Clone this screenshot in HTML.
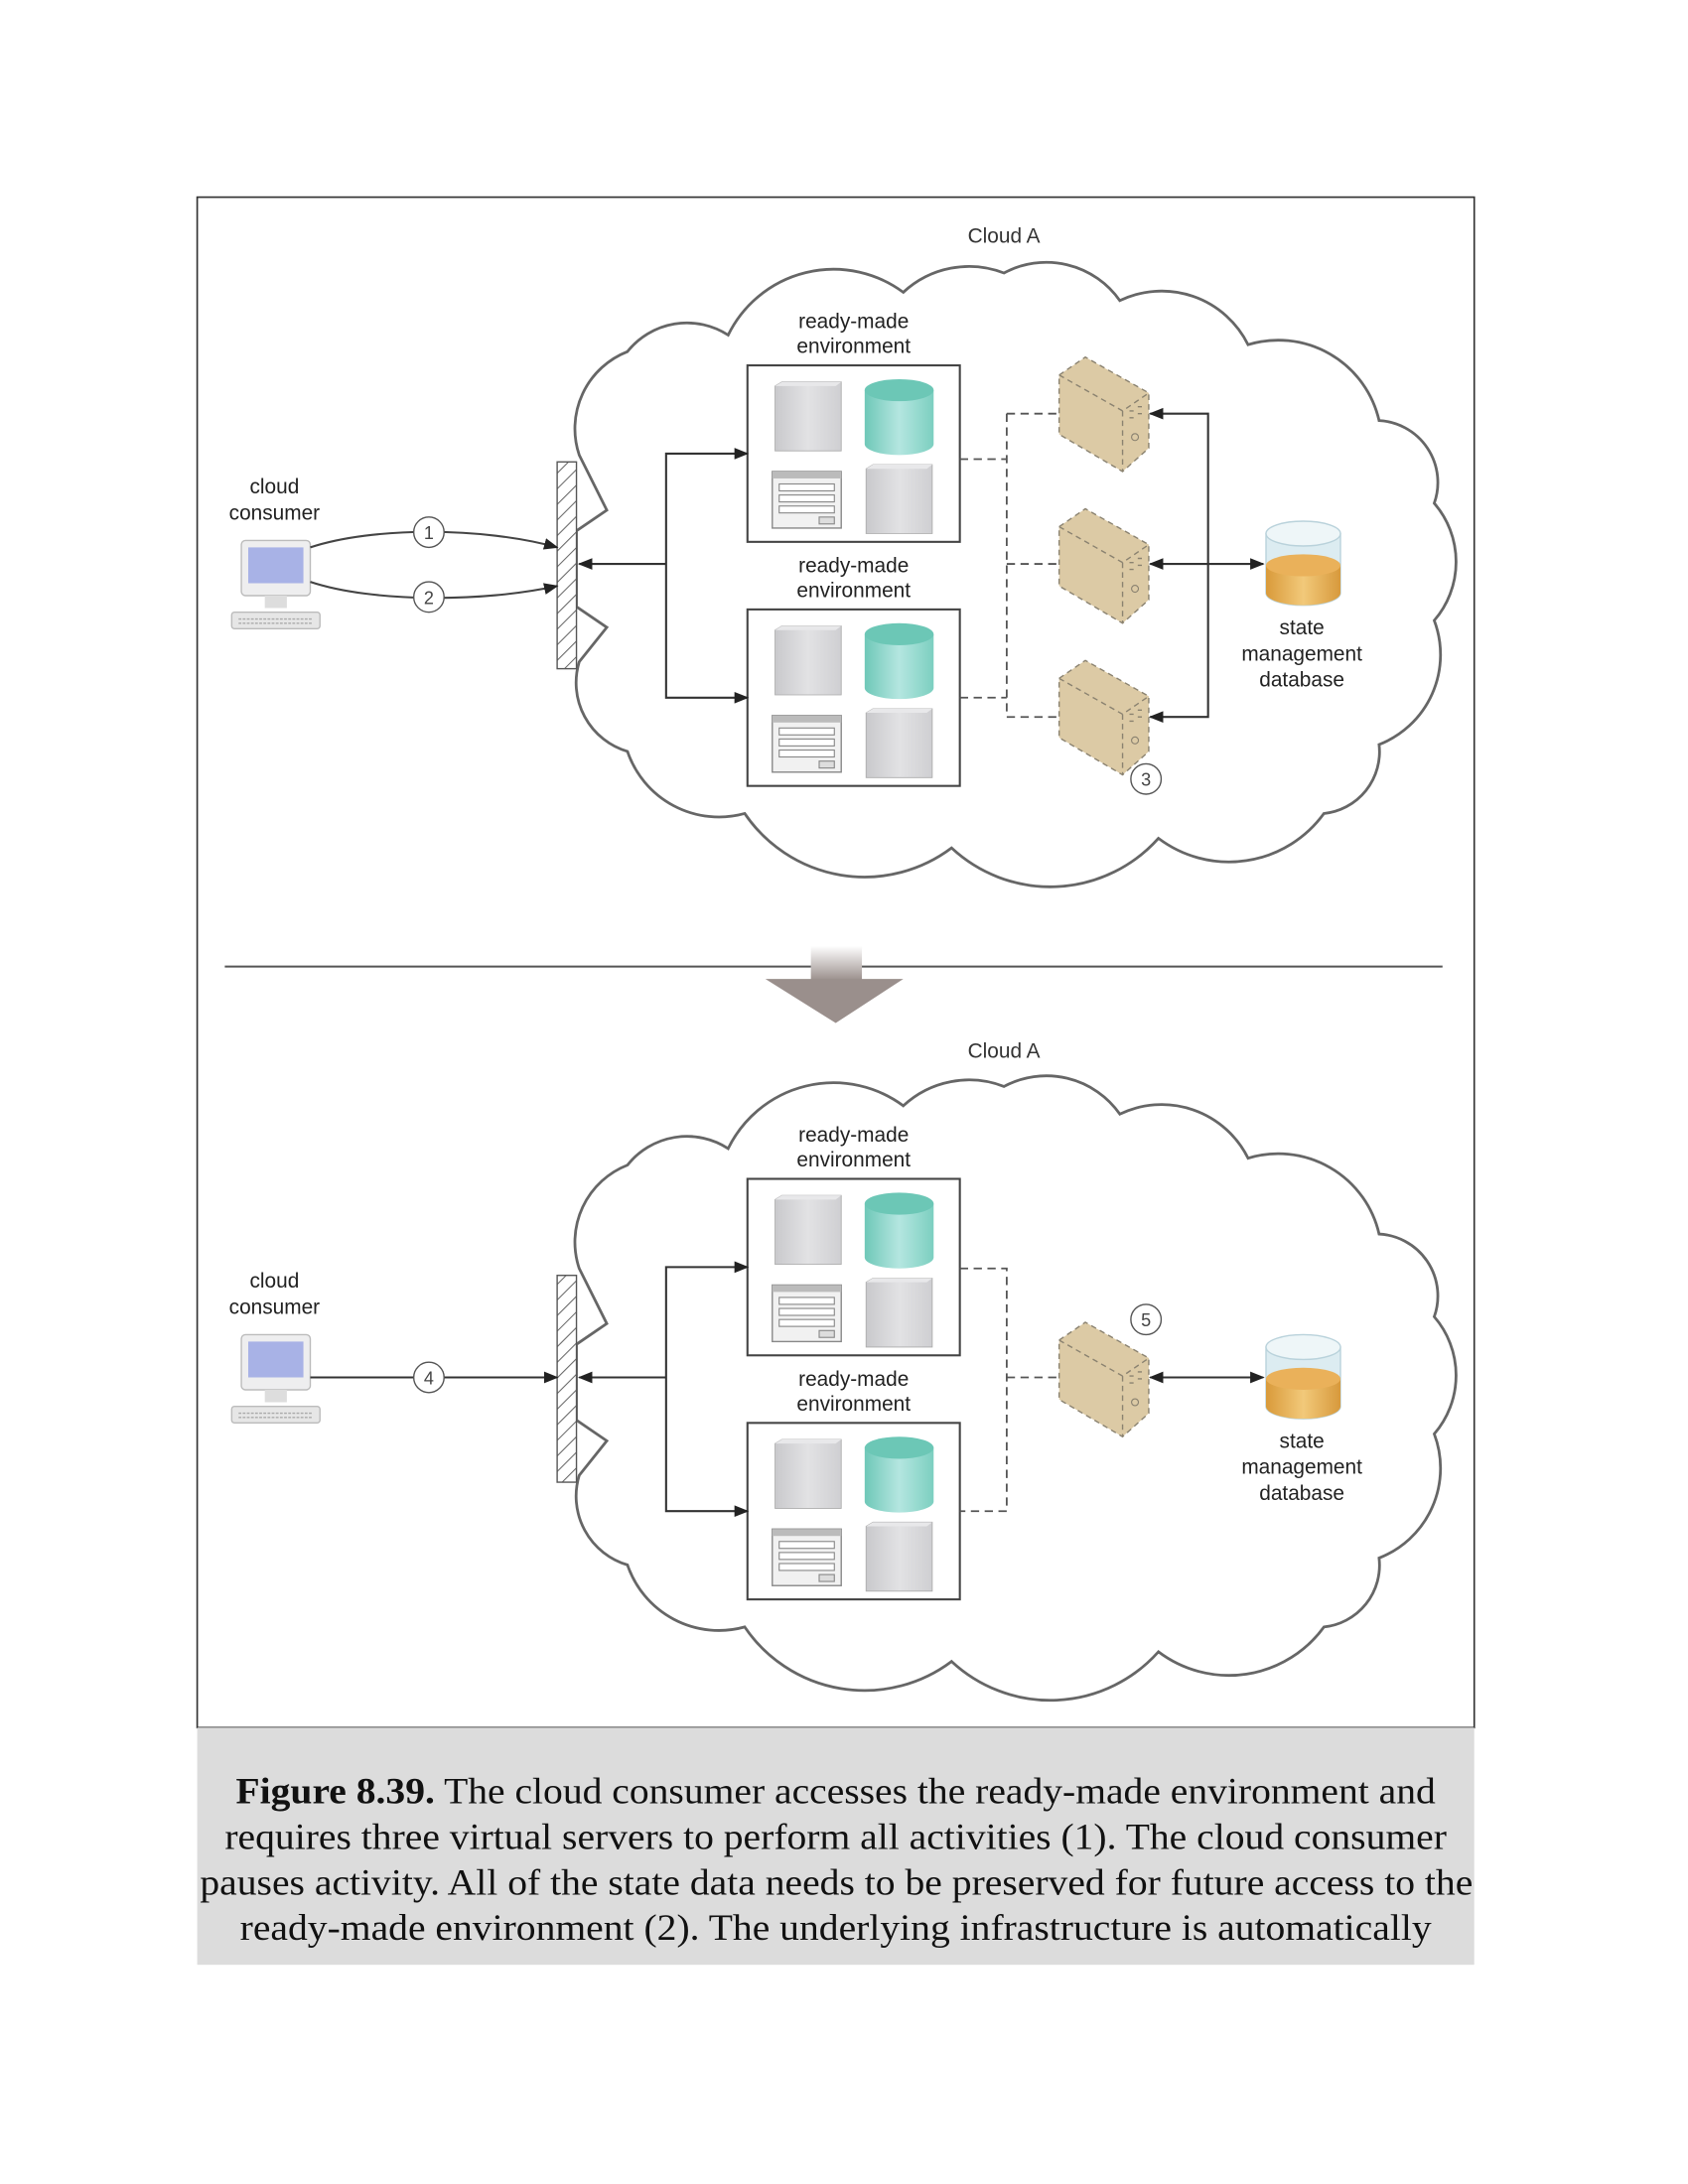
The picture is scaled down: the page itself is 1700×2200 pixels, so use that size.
<!DOCTYPE html>
<html><head><meta charset="utf-8"><style>html,body{margin:0;padding:0;background:#fff}svg{display:block}</style></head><body>
<svg width="1700" height="2200" viewBox="0 0 1224 1584" xmlns="http://www.w3.org/2000/svg" font-family="Liberation Sans, sans-serif">
<defs>
<linearGradient id="gs" x1="0" x2="1"><stop offset="0" stop-color="#c9c9cc"/><stop offset="0.5" stop-color="#e2e2e4"/><stop offset="1" stop-color="#cfcfd2"/></linearGradient>
<linearGradient id="gt" x1="0" x2="1"><stop offset="0" stop-color="#6fc8b8"/><stop offset="0.5" stop-color="#b4e6e0"/><stop offset="1" stop-color="#7ccfc0"/></linearGradient>
<linearGradient id="go" x1="0" x2="1"><stop offset="0" stop-color="#d99a3a"/><stop offset="0.5" stop-color="#f2c97a"/><stop offset="1" stop-color="#d7993c"/></linearGradient>
<linearGradient id="ga" x1="0" y1="0" x2="0" y2="1"><stop offset="0" stop-color="#fff"/><stop offset="1" stop-color="#9a8f8c"/></linearGradient>
<pattern id="hatch" width="8" height="8" patternUnits="userSpaceOnUse" patternTransform="rotate(45)"><rect width="8" height="8" fill="#fff"/><line x1="0" y1="0" x2="0" y2="8" stroke="#666" stroke-width="1.5"/></pattern>
<marker id="ar" viewBox="0 0 10 10" refX="9" refY="5" markerWidth="7" markerHeight="7" orient="auto-start-reverse"><path d="M0,1 L10,5 L0,9 z" fill="#222"/></marker>
<g id="srv"><path d="M0,3 L5,0 L48,0 L48,50 L0,50z" fill="url(#gs)" stroke="#aaa" stroke-width="0.6"/><path d="M0,3 L5,0 L48,0 L44,3z" fill="#e8e8ea"/></g>
<g id="cyl"><path d="M0,8 L0,47 A25,8 0 0 0 50,47 L50,8z" fill="url(#gt)"/><ellipse cx="25" cy="8" rx="25" ry="8" fill="#6cc7b6"/></g>
<g id="form"><rect x="0" y="0" width="50" height="41" fill="#f1f1f1" stroke="#888" stroke-width="1"/><rect x="0" y="0" width="50" height="5" fill="#bbb"/><rect x="5" y="9" width="40" height="5" fill="#fff" stroke="#888" stroke-width="0.8"/><rect x="5" y="17" width="40" height="5" fill="#fff" stroke="#888" stroke-width="0.8"/><rect x="5" y="25" width="40" height="5" fill="#fff" stroke="#888" stroke-width="0.8"/><rect x="34" y="33" width="11" height="5" fill="#ddd" stroke="#888" stroke-width="0.8"/></g>
<g id="env"><rect x="0" y="0" width="154" height="128" fill="#fff" stroke="#444" stroke-width="1.5"/><use href="#srv" x="20" y="12"/><use href="#cyl" x="85" y="10"/><use href="#form" x="18" y="77"/><use href="#srv" x="86" y="72"/></g>
<g id="vs"><path d="M0,17 L19,4 L65,30 L65,70 L46,87 L0,60z" fill="#dccaa5" stroke="#8a8270" stroke-width="1" stroke-dasharray="4,3"/><path d="M0,17 L46,43 L65,30 M46,43 L46,87" fill="none" stroke="#8a8270" stroke-width="1" stroke-dasharray="4,3"/><path d="M51,43 h3 M57,40 h3 M51,48 h3 M57,45 h3" stroke="#8a8270" stroke-width="1"/><circle cx="55" cy="62" r="2.5" fill="none" stroke="#8a8270" stroke-width="0.8"/></g>
<g id="pc"><rect x="7" y="0" width="50" height="40" rx="3" fill="#eeeeef" stroke="#bbb"/><rect x="12" y="5" width="40" height="26" fill="#a8b2e6"/><rect x="24" y="40" width="16" height="9" fill="#ddd"/><rect x="0" y="52" width="64" height="12" rx="2" fill="#e6e6e6" stroke="#bbb"/><path d="M5,57 h54 M5,60 h54" stroke="#aaa" stroke-dasharray="2,1"/></g>
<g id="db"><path d="M0,9 L0,52 A27,9 0 0 0 54,52 L54,9z" fill="#dcecf1" stroke="#b9d2db"/><ellipse cx="27" cy="9" rx="27" ry="9" fill="#eef6f8" stroke="#b9d2db"/><path d="M0,32 L0,52 A27,9 0 0 0 54,52 L54,32z" fill="url(#go)"/><ellipse cx="27" cy="32" rx="27" ry="8" fill="#eab15a"/></g>
<path id="cloud" d="M420,330 A60,60 0 0 1 455,255 A55,55 0 0 1 528,243 A85,85 0 0 1 655,212 A70,70 0 0 1 728,198 A65,65 0 0 1 812,218 A70,70 0 0 1 905,250 A75,75 0 0 1 1000,305 A45,45 0 0 1 1040,365 A65,65 0 0 1 1040,450 A70,70 0 0 1 1000,540 A45,45 0 0 1 960,590 A85,85 0 0 1 840,608 A105,105 0 0 1 690,615 A105,105 0 0 1 540,590 A70,70 0 0 1 455,545 A52,52 0 0 1 420,480 L440,455 L418,440 L418,385 L440,370 Z" fill="#fff" stroke="#666" stroke-width="2"/>
</defs>

<rect x="143" y="143" width="926" height="1110" fill="#fff" stroke="#333" stroke-width="1.2"/>
<rect x="143" y="1253" width="926" height="172" fill="#dcdcdc"/>

<use href="#cloud"/>
<text x="728" y="176" font-size="15" text-anchor="middle" fill="#333">Cloud A</text>
<g font-size="15" text-anchor="middle" fill="#222">
<text x="619" y="238">ready-made</text><text x="619" y="256">environment</text>
<text x="619" y="415">ready-made</text><text x="619" y="433">environment</text>
<text x="199" y="358">cloud</text><text x="199" y="377">consumer</text>
<text x="944" y="460">state</text><text x="944" y="479">management</text><text x="944" y="498">database</text>
</g>
<use href="#env" x="542" y="265"/>
<use href="#env" x="542" y="442"/>
<use href="#pc" x="168" y="392"/>
<rect x="404" y="335" width="14" height="150" fill="url(#hatch)" stroke="#555"/>
<path d="M225,397 C270,382 350,382 404,397" fill="none" stroke="#444" stroke-width="1.5" marker-end="url(#ar)"/>
<path d="M225,422 C270,437 350,437 404,425" fill="none" stroke="#444" stroke-width="1.5" marker-end="url(#ar)"/>
<circle cx="311" cy="386" r="11" fill="#fff" stroke="#555"/><text x="311" y="391" font-size="13" text-anchor="middle" fill="#444">1</text>
<circle cx="311" cy="433" r="11" fill="#fff" stroke="#555"/><text x="311" y="438" font-size="13" text-anchor="middle" fill="#444">2</text>
<g stroke="#333" stroke-width="1.5" fill="none">
<path d="M483,409 L420,409" marker-end="url(#ar)"/>
<path d="M542,329 L483,329 L483,506 L542,506" marker-end="url(#ar)" marker-start="url(#ar)"/>
<path d="M834,300 L876,300 L876,520 L834,520" marker-end="url(#ar)" marker-start="url(#ar)"/>
<path d="M834,409 L916,409" marker-end="url(#ar)" marker-start="url(#ar)"/>
</g>
<g stroke="#555" stroke-width="1.3" fill="none" stroke-dasharray="6,4">
<path d="M696,333 L730,333 M696,506 L730,506 M730,300 L730,520 M730,300 L792,300 M730,409 L792,409 M730,520 L792,520"/>
</g>
<use href="#vs" x="768" y="255"/>
<use href="#vs" x="768" y="365"/>
<use href="#vs" x="768" y="475"/>
<circle cx="831" cy="565" r="11" fill="#fff" stroke="#555"/><text x="831" y="570" font-size="13" text-anchor="middle" fill="#444">3</text>
<use href="#db" x="918" y="378"/>

<line x1="163" y1="701" x2="1046" y2="701" stroke="#555" stroke-width="1.5"/>
<rect x="588" y="686" width="37" height="25" fill="url(#ga)"/>
<path d="M555,710 L655,710 L606,742z" fill="#9a8f8c"/>

<use href="#cloud" y="590"/>
<text x="728" y="767" font-size="15" text-anchor="middle" fill="#333">Cloud A</text>
<g font-size="15" text-anchor="middle" fill="#222">
<text x="619" y="828">ready-made</text><text x="619" y="846">environment</text>
<text x="619" y="1005">ready-made</text><text x="619" y="1023">environment</text>
<text x="199" y="934">cloud</text><text x="199" y="953">consumer</text>
<text x="944" y="1050">state</text><text x="944" y="1069">management</text><text x="944" y="1088">database</text>
</g>
<use href="#env" x="542" y="855"/>
<use href="#env" x="542" y="1032"/>
<use href="#pc" x="168" y="968"/>
<rect x="404" y="925" width="14" height="150" fill="url(#hatch)" stroke="#555"/>
<g stroke="#333" stroke-width="1.5" fill="none">
<path d="M225,999 L404,999" marker-end="url(#ar)"/>
<path d="M483,999 L420,999" marker-end="url(#ar)"/>
<path d="M542,919 L483,919 L483,1096 L542,1096" marker-end="url(#ar)" marker-start="url(#ar)"/>
<path d="M834,999 L916,999" marker-end="url(#ar)" marker-start="url(#ar)"/>
</g>
<circle cx="311" cy="999" r="11" fill="#fff" stroke="#555"/><text x="311" y="1004" font-size="13" text-anchor="middle" fill="#444">4</text>
<path d="M696,920 L730,920 L730,1096 L696,1096 M730,999 L792,999" stroke="#555" stroke-width="1.3" fill="none" stroke-dasharray="6,4"/>
<use href="#vs" x="768" y="955"/>
<circle cx="831" cy="957" r="11" fill="#fff" stroke="#555"/><text x="831" y="962" font-size="13" text-anchor="middle" fill="#444">5</text>
<use href="#db" x="918" y="968"/>

<g font-family="Liberation Serif, serif" font-size="27" fill="#111">
<text x="171" y="1308" textLength="870" lengthAdjust="spacingAndGlyphs"><tspan font-weight="bold">Figure 8.39.</tspan> The cloud consumer accesses the ready-made environment and</text>
<text x="163" y="1341" textLength="886" lengthAdjust="spacingAndGlyphs">requires three virtual servers to perform all activities (1). The cloud consumer</text>
<text x="145" y="1374" textLength="923" lengthAdjust="spacingAndGlyphs">pauses activity. All of the state data needs to be preserved for future access to the</text>
<text x="174" y="1407" textLength="864" lengthAdjust="spacingAndGlyphs">ready-made environment (2). The underlying infrastructure is automatically</text>
</g>
</svg>
</body></html>
